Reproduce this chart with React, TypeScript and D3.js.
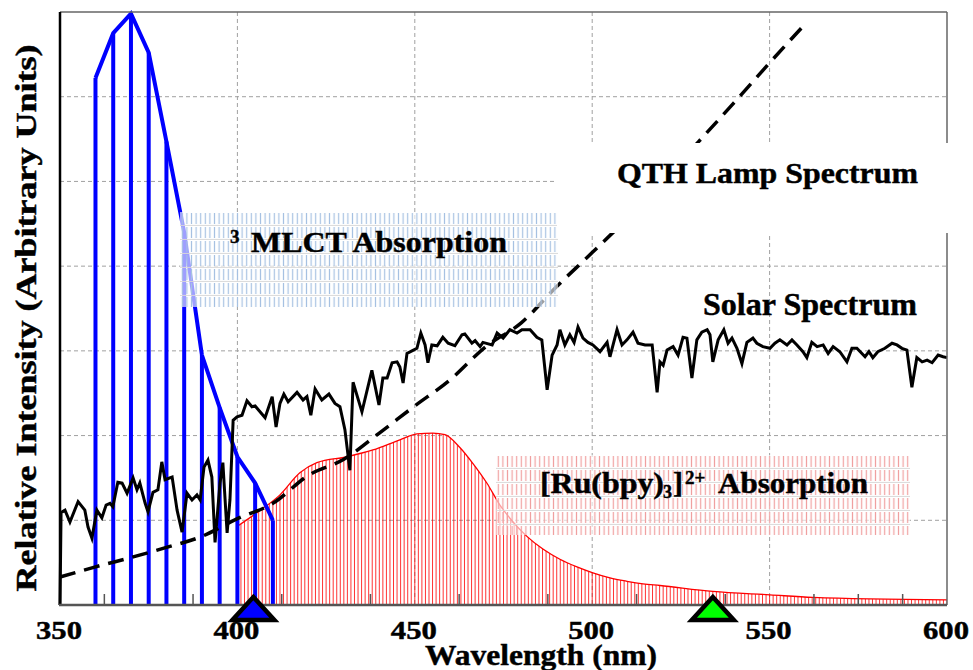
import React from 'react';
import * as d3 from 'd3';

const W = 973;
const H = 670;

// Axis / grid values
const xTickValues = [350, 400, 450, 500, 550, 600];
const xGridValues = [400, 450, 500, 550];
const xMinorTicks = [362.5, 387.5, 412.5, 437.5, 462.5, 487.5, 512.5, 537.5, 562.5, 575, 587.5];
const yGridValues = [1, 2, 3, 4, 5, 6];

// 3MLCT absorption (bars + envelope)
const mlctWavelengths = [360, 365, 370, 375, 380, 385, 390, 395, 400, 405, 410];
const mlctValues = [6.22, 6.75, 6.98, 6.52, 5.47, 4.4, 2.95, 2.33, 1.75, 1.44, 1.0];

// [Ru(bpy)3]2+ absorption [nm, value]
const ruAbsorption: [number, number][] = [
  [400, 0.93], [405.5, 1.09], [412, 1.3], [417.6, 1.56], [422.4, 1.68], [430.9, 1.75],
  [438.2, 1.83], [445.8, 1.95], [450.6, 2.02], [455.1, 2.03], [458.5, 2.01], [462.7, 1.86],
  [466.4, 1.67], [470.3, 1.44], [474, 1.18], [477.7, 0.98], [481.6, 0.81], [486.1, 0.66],
  [490.9, 0.54], [495.7, 0.45], [500.2, 0.38], [505, 0.32], [509.8, 0.28], [514.3, 0.25],
  [519.1, 0.23], [534, 0.16], [550.1, 0.12], [562.2, 0.09], [600, 0.06],
];

// QTH lamp spectrum [nm, value]
const qthSpectrum: [number, number][] = [
  [350, 0.33], [360, 0.45], [370, 0.56], [380, 0.68], [390, 0.81], [400, 1.02], [410, 1.2],
  [420, 1.53], [430, 1.72], [440, 2.03], [450, 2.35], [460, 2.66], [470, 3.05], [480, 3.33],
  [490, 3.76], [500, 4.16], [510, 4.57], [520, 5.02], [530, 5.47], [540, 5.93], [550, 6.4],
  [559.4, 6.83],
];

// Solar spectrum [nm, value]
const solarSpectrum: [number, number][] = [
  [350, 0], [350.3, 1.09], [351.4, 1.12], [352.8, 0.98], [355.1, 1.22], [357.0, 1.12], [357.9, 0.92],
  [359.0, 0.79], [360.4, 1.12], [361.8, 1.03], [363.0, 1.18], [364.1, 1.2], [364.9, 1.16], [366.3, 1.45],
  [367.5, 1.44], [368.9, 1.32], [370.6, 1.5], [371.7, 1.36], [372.5, 1.44], [374.0, 1.2], [374.8, 1.1],
  [376.2, 1.33], [377.6, 1.36], [378.7, 1.69], [379.6, 1.48], [381.6, 1.51], [383.0, 1.12], [384.4, 0.86],
  [385.8, 1.32], [387.2, 1.24], [388.6, 1.3], [389.5, 1.24], [390.6, 1.63], [391.7, 1.71], [392.8, 1.51],
  [393.7, 0.74], [395.1, 1.44], [395.9, 1.68], [397.1, 0.85], [397.9, 1.24], [398.8, 2.18], [399.9, 2.22],
  [401.3, 2.24], [402.7, 2.41], [404.1, 2.34], [405.0, 2.35], [407.8, 2.21], [409.8, 2.46], [410.9, 2.1],
  [412.0, 2.38], [413.1, 2.49], [414.3, 2.4], [416.8, 2.51], [418.5, 2.42], [419.6, 2.46], [420.7, 2.24],
  [421.9, 2.55], [423.8, 2.42], [425.8, 2.49], [427.5, 2.38], [428.9, 2.34], [430.3, 2.07], [431.7, 1.59],
  [432.6, 2.63], [435.1, 2.28], [437.9, 2.77], [439.9, 2.36], [441.0, 2.68], [442.2, 2.68], [443.6, 2.86],
  [445.0, 2.87], [445.8, 2.81], [446.7, 2.62], [447.8, 2.97], [449.2, 3.0], [450.6, 3.03], [451.7, 3.21],
  [452.9, 3.07], [453.7, 2.86], [454.8, 3.07], [456.3, 3.06], [457.9, 3.16], [459.4, 3.09], [461.3, 3.06],
  [463.3, 3.19], [464.1, 3.2], [466.1, 3.09], [467.0, 3.12], [468.4, 3.05], [469.2, 3.1], [471.8, 3.07],
  [473.2, 3.21], [474.9, 3.15], [476.8, 3.25], [478.8, 3.21], [480.2, 3.25], [482.5, 3.25], [484.4, 3.16],
  [485.8, 3.13], [487.3, 2.54], [488.7, 2.95], [490.1, 3.07], [490.9, 3.25], [492.3, 3.07], [493.7, 3.19],
  [494.9, 3.1], [496.0, 3.28], [497.4, 3.15], [498.8, 3.1], [500.2, 3.07], [502.2, 2.99], [504.2, 3.1],
  [505.0, 2.93], [507.0, 3.25], [508.4, 3.07], [509.8, 3.13], [511.5, 3.22], [512.9, 3.09], [514.9, 3.07],
  [516.9, 3.07], [518.3, 2.51], [519.1, 2.87], [520.0, 2.83], [521.1, 3.01], [522.8, 3.05], [524.2, 2.95],
  [525.6, 3.16], [526.7, 3.15], [528.1, 2.68], [529.5, 3.13], [530.9, 3.22], [532.4, 3.25], [533.2, 3.19],
  [534.0, 2.87], [535.5, 3.13], [537.1, 3.25], [538.3, 3.09], [539.4, 3.15], [540.8, 3.03], [542.2, 2.85],
  [543.6, 3.1], [545.3, 3.15], [546.4, 3.09], [548.1, 3.05], [550.1, 3.03], [551.5, 3.09], [552.9, 3.13],
  [554.9, 3.07], [556.3, 3.13], [557.7, 3.07], [559.4, 2.99], [560.5, 2.92], [561.9, 3.1], [563.4, 3.05],
  [565.1, 3.07], [566.5, 2.97], [567.9, 3.05], [569.8, 2.99], [571.8, 2.87], [573.2, 3.03], [574.6, 3.03],
  [576.9, 2.93], [578.0, 2.99], [579.1, 2.92], [580.5, 2.99], [582.5, 3.03], [584.5, 3.09], [585.9, 3.07],
  [587.3, 3.03], [588.7, 3.01], [590.1, 2.57], [591.5, 2.92], [593.0, 2.87], [594.4, 2.89], [595.8, 2.86],
  [597.5, 2.95], [598.9, 2.93], [600, 2.92],
];

// Excitation markers
const laserWavelengths = [404.5, 534];
const laserColors = ['#0000ff', '#00ff00'];

const FONT = "'Liberation Serif', 'Times New Roman', serif";

export default function App() {
  const x = d3.scaleLinear().domain([350, 600]).range([60, 947]);
  const y = d3.scaleLinear().domain([0, 7]).range([605, 12]);
  const x0 = x(350), x1 = x(600), y0 = y(0), yTop = y(7);

  const mlctPts: [number, number][] = mlctWavelengths.map((w, i) => [w, mlctValues[i]]);
  const lineLin = d3.line<[number, number]>().x(d => x(d[0])).y(d => y(d[1]));
  const lineSmooth = d3.line<[number, number]>().x(d => x(d[0])).y(d => y(d[1])).curve(d3.curveMonotoneX);
  const ruArea = d3.area<[number, number]>().x(d => x(d[0])).y0(y0).y1(d => y(d[1])).curve(d3.curveMonotoneX);
  const stripes = d3.range(400, 600.01, 1);

  return (
    <svg width={W} height={H} style={{ position: 'absolute', left: 0, top: 0, background: '#fff' }}>
      <defs>
        <clipPath id="ruClip">
          <path d={ruArea(ruAbsorption) || ''} />
        </clipPath>
        <pattern id="mlctPat" patternUnits="userSpaceOnUse" x={180} y={212} width={4.6} height={14}>
          <rect width={4.6} height={14} fill="#fff" fillOpacity={0.62} />
          <line x1={2.3} x2={2.3} y1={1} y2={12} stroke="#a6c1e2" strokeWidth={1.2} />
          <line x1={0} x2={4.6} y1={13.4} y2={13.4} stroke="#d8d8d8" strokeWidth={1} />
        </pattern>
        <pattern id="ruPat" patternUnits="userSpaceOnUse" x={496} y={455} width={4.6} height={14}>
          <rect width={4.6} height={14} fill="#fff" fillOpacity={0.62} />
          <line x1={2.3} x2={2.3} y1={1} y2={12} stroke="#f0a0a0" strokeWidth={1.2} />
          <line x1={0} x2={4.6} y1={13.4} y2={13.4} stroke="#d8d8d8" strokeWidth={1} />
        </pattern>
      </defs>

      {/* grid */}
      {yGridValues.map(v => (
        <line key={'gy' + v} x1={x0} x2={x1} y1={y(v)} y2={y(v)} stroke="#a0a0a0" strokeWidth={1} strokeDasharray="4,3" />
      ))}
      {xGridValues.map(v => (
        <line key={'gx' + v} x1={x(v)} x2={x(v)} y1={yTop} y2={y0} stroke="#a0a0a0" strokeWidth={1} strokeDasharray="4,3" />
      ))}

      {/* Ru absorption */}
      <g clipPath="url(#ruClip)">
        {stripes.map(s => (
          <line key={'st' + s} x1={x(s)} x2={x(s)} y1={yTop} y2={y0} stroke="#ff0000" strokeWidth={1} strokeOpacity={0.8} />
        ))}
      </g>
      <path d={lineSmooth(ruAbsorption) || ''} fill="none" stroke="#ff0000" strokeWidth={1.3} />

      {/* minor ticks */}
      {xMinorTicks.map(t => (
        <line key={'mt' + t} x1={x(t)} x2={x(t)} y1={y0} y2={y0 - 11} stroke="#555" strokeWidth={1.5} />
      ))}

      {/* MLCT bars and envelope */}
      {mlctPts.map(d => (
        <line key={'mb' + d[0]} x1={x(d[0])} x2={x(d[0])} y1={y(d[1])} y2={y0} stroke="#0000ff" strokeWidth={4} />
      ))}
      <path d={lineLin(mlctPts) || ''} fill="none" stroke="#0000ff" strokeWidth={4} strokeLinejoin="miter" />

      {/* solar spectrum */}
      <path d={lineLin(solarSpectrum) || ''} fill="none" stroke="#000" strokeWidth={3} strokeLinejoin="miter" />

      {/* QTH lamp */}
      <path d={lineSmooth(qthSpectrum) || ''} fill="none" stroke="#000" strokeWidth={3.5} strokeDasharray="16,9" />

      {/* label boxes */}
      <rect x={180} y={212} width={378} height={95} fill="url(#mlctPat)" />
      <rect x={496} y={455} width={414} height={80} fill="url(#ruPat)" />

      {/* frame */}
      <line x1={x0} x2={x1} y1={yTop} y2={yTop} stroke="#666" strokeWidth={1.5} />
      <line x1={x1} x2={x1} y1={yTop} y2={y0} stroke="#666" strokeWidth={1.5} />
      <line x1={x0} x2={x0} y1={yTop} y2={y0} stroke="#000" strokeWidth={2.5} />
      <line x1={x0 - 1} x2={x1} y1={y0} y2={y0} stroke="#555" strokeWidth={2.5} />

      {/* QTH label box */}
      <rect x={557} y={143} width={396} height={90} fill="#fff" />

      {/* labels */}
      <g fontFamily={FONT} fontWeight="bold" fill="#000" stroke="#000" strokeWidth={0.45}>
        <text x={617} y={183} fontSize={30} textLength={301} lengthAdjust="spacingAndGlyphs">QTH Lamp Spectrum</text>
        <text x={703} y={315} fontSize={31} textLength={214} lengthAdjust="spacingAndGlyphs">Solar Spectrum</text>
        <text x={230} y={243} fontSize={19}>3</text>
        <text x={251} y={252} fontSize={30} textLength={256} lengthAdjust="spacingAndGlyphs">MLCT Absorption</text>
        <text x={540} y={493} fontSize={30} textLength={124} lengthAdjust="spacingAndGlyphs">[Ru(bpy)</text>
        <text x={663} y={498} fontSize={18}>3</text>
        <text x={673} y={493} fontSize={30}>]</text>
        <text x={685} y={484} fontSize={19}>2+</text>
        <text x={718} y={493} fontSize={30} textLength={150} lengthAdjust="spacingAndGlyphs">Absorption</text>

        {xTickValues.map(t => (
          <text key={'tl' + t} x={x(t) - 1} y={639} fontSize={26} textAnchor="middle" textLength={46} lengthAdjust="spacingAndGlyphs">{t}</text>
        ))}
        <text x={425} y={665} fontSize={30} textLength={232} lengthAdjust="spacingAndGlyphs">Wavelength (nm)</text>
        <text transform="translate(36,318) rotate(-90)" fontSize={30} textAnchor="middle" textLength={547} lengthAdjust="spacingAndGlyphs">Relative Intensity (Arbitrary Units)</text>
      </g>

      {/* excitation markers */}
      {laserWavelengths.map((w, i) => {
        const cx = x(w);
        return (
          <path key={'lm' + w} d={`M${cx},597L${cx + 21},620L${cx - 21},620Z`} fill={laserColors[i]} stroke="#000" strokeWidth={4.5} strokeLinejoin="miter" />
        );
      })}
    </svg>
  );
}
